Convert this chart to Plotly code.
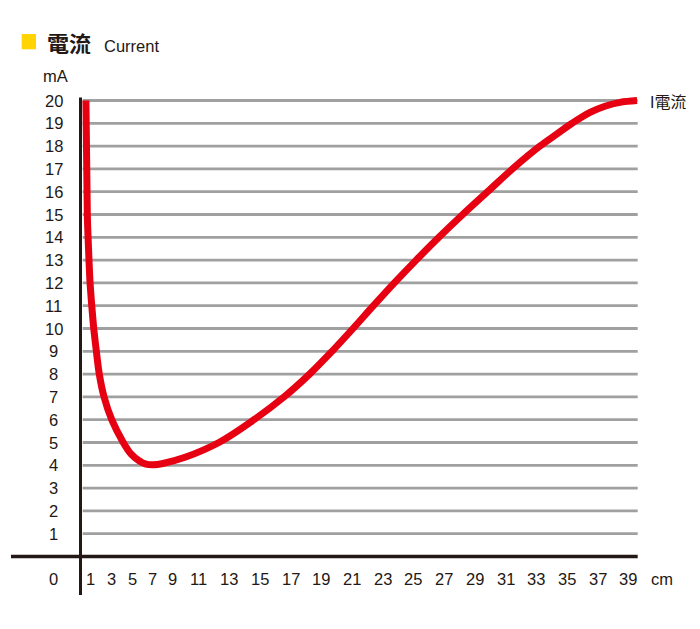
import plotly.graph_objects as go

# ---- data ----
curve_x_cm = [3.68, 3.77, 3.82, 3.88, 3.95, 4.06, 4.19, 4.36, 4.55, 4.86, 5.36, 6.11,
              6.61, 7.14, 7.59, 8.05, 8.70, 10.13, 12.34, 14.62, 16.58, 18.24, 19.70,
              21.07, 22.40, 23.76, 25.18, 26.66, 28.21, 29.83, 31.45, 33.24, 34.28,
              35.33, 36.50, 37.47, 38.45, 39.56]
curve_y_ma = [20, 15, 14, 13, 12, 11, 10, 9, 8, 7, 6, 5,
              4.5, 4.2, 4.05, 4.02, 4.08, 4.35, 5, 6, 7, 8, 9,
              10, 11, 12, 13, 14, 15, 16, 17, 18, 18.5,
              19, 19.48, 19.75, 19.92, 20]

y_tick_vals = list(range(1, 21))
x_tick_labels = ["1", "3", "5", "7", "9", "11", "13", "15", "17", "19", "21", "23",
                 "25", "27", "29", "31", "33", "35", "37", "39"]
x_tick_pos = [3.99, 5.36, 6.70, 8.00, 9.33, 11, 13, 15, 17, 19, 21, 23,
              25, 27, 29, 31, 33, 35, 37, 39]

# ---- geometry (pixel mapping of the picture; page body has an 8px margin) ----
OFF = 8
W, H = 700 - OFF, 629 - OFF
PX0, PXU = 29.4 - OFF, 15.36      # figure pixel x of cm=0, px per cm
PY0, PYU = 556.5 - OFF, 22.8      # figure pixel y of mA=0, px per mA
x_range = [(0 - PX0) / PXU, (W - PX0) / PXU]
y_range = [-(H - PY0) / PYU, PY0 / PYU]


def cx(px):   # screen pixel x -> data x
    return (px - OFF - PX0) / PXU


def cy(py):   # screen pixel y -> data y
    return (PY0 - (py - OFF)) / PYU


def pxp(px):  # screen pixel x -> paper
    return (px - OFF) / W


def pyp(py):  # screen pixel y -> paper
    return 1 - (py - OFF) / H


TXT = "#231815"
RED = "#e60012"
GRID = "#a0a0a0"
FONT = "Liberation Sans, Arial, Noto Sans CJK TC, sans-serif"

fig = go.Figure()
fig.add_trace(go.Scatter(
    x=curve_x_cm, y=curve_y_ma, mode="lines",
    line=dict(color=RED, width=7, shape="spline", smoothing=1.0),
    hoverinfo="skip", showlegend=False))

shapes = []
grid_x0, grid_x1 = cx(82.7), cx(637.7)
for v in y_tick_vals:
    shapes.append(dict(type="line", xref="x", yref="y", x0=grid_x0, x1=grid_x1,
                       y0=v, y1=v, line=dict(color=GRID, width=2.8), layer="below"))
# axes
axis_x = cx(80.5)
shapes.append(dict(type="line", xref="x", yref="y", x0=cx(11), x1=grid_x1,
                   y0=0, y1=0, line=dict(color=TXT, width=3.5), layer="below"))
shapes.append(dict(type="line", xref="x", yref="y", x0=axis_x, x1=axis_x,
                   y0=cy(595), y1=cy(97.5),
                   line=dict(color=TXT, width=3), layer="below"))
# yellow legend square
shapes.append(dict(type="rect", xref="paper", yref="paper",
                   x0=pxp(21.7), x1=pxp(36), y0=pyp(49.3), y1=pyp(34),
                   fillcolor="#ffd400", line=dict(width=0)))

ann = []
lab_x = cx(53.5)
for v in y_tick_vals:
    ann.append(dict(x=lab_x, y=v, xref="x", yref="y", text=str(v), showarrow=False,
                    xanchor="center", yanchor="middle", font=dict(size=16.5, color=TXT)))
ann.append(dict(x=lab_x, y=-1.0, xref="x", yref="y", text="0", showarrow=False,
                xanchor="center", yanchor="middle", font=dict(size=16.5, color=TXT)))
for p, t in zip(x_tick_pos, x_tick_labels):
    ann.append(dict(x=p, y=-1.0, xref="x", yref="y", text=t, showarrow=False,
                    xanchor="center", yanchor="middle", font=dict(size=16.5, color=TXT)))
ann.append(dict(x=cx(661.7), y=-1.0, xref="x", yref="y", text="cm",
                showarrow=False, xanchor="center", yanchor="middle",
                font=dict(size=16.5, color=TXT)))
ann.append(dict(x=cx(55), y=cy(76), xref="x", yref="y", text="mA",
                showarrow=False, xanchor="center", yanchor="middle",
                font=dict(size=16.5, color=TXT)))
ann.append(dict(x=cx(648), y=cy(102.5), xref="x", yref="y",
                text="I電流", showarrow=False, xanchor="left", yanchor="middle",
                font=dict(size=16, color=TXT)))
# title
ann.append(dict(x=pxp(45), y=pyp(42), xref="paper", yref="paper", text="電流",
                showarrow=False, xanchor="left", yanchor="middle",
                font=dict(size=22, color=TXT, family="Noto Sans CJK TC, sans-serif",
                          weight=600)))
ann.append(dict(x=pxp(102), y=pyp(46), xref="paper", yref="paper", text="Current",
                showarrow=False, xanchor="left", yanchor="middle",
                font=dict(size=16.5, color=TXT)))

fig.update_layout(
    width=W, height=H, margin=dict(l=0, r=0, t=0, b=0),
    paper_bgcolor="white", plot_bgcolor="white",
    xaxis=dict(range=x_range, visible=False, fixedrange=True),
    yaxis=dict(range=y_range, visible=False, fixedrange=True),
    shapes=shapes, annotations=ann, font=dict(family=FONT, color=TXT),
    showlegend=False)

fig.write_html("out.html")
